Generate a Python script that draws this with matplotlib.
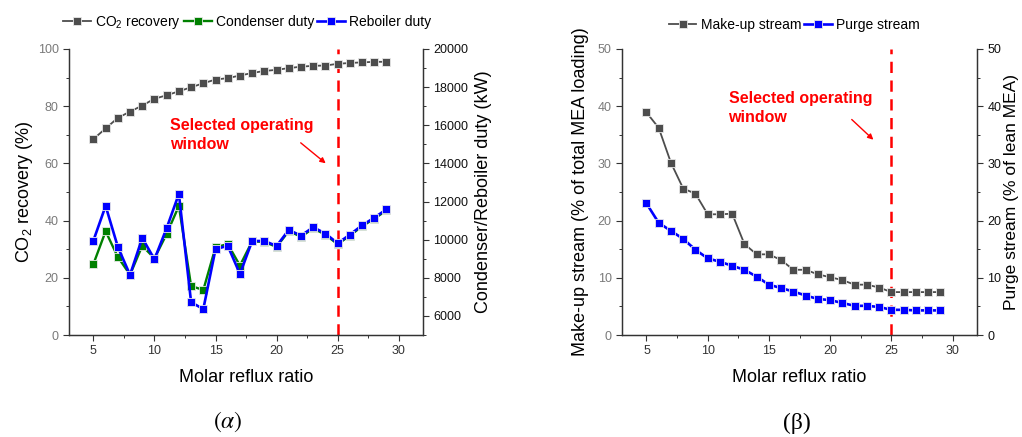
import numpy as np
import matplotlib
matplotlib.use("Agg")
import matplotlib.pyplot as plt
from matplotlib.ticker import MultipleLocator

plt.rcParams['font.family'] = ['Liberation Sans', 'DejaVu Sans']
plt.rcParams['mathtext.fontset'] = 'custom'
plt.rcParams['mathtext.rm'] = 'Liberation Sans'
plt.rcParams['mathtext.it'] = 'Liberation Sans:italic'

# Molar reflux ratio sweep
reflux = [5, 6, 7, 8, 9, 10, 11, 12, 13, 14, 15, 16, 17, 18, 19, 20,
          21, 22, 23, 24, 25, 26, 27, 28, 29]

# (a) CO2 recovery (%) and column duties (kW)
co2_recovery = [68.5, 72.2, 75.9, 78.1, 80.2, 82.6, 83.8, 85.2, 86.6, 88.0,
                89.3, 89.8, 90.7, 91.6, 92.3, 92.7, 93.3, 93.8, 94.1, 94.2,
                94.8, 95.1, 95.3, 95.5, 95.5]
condenser_duty = [8720, 10440, 9090, 8160, 9680, 9020, 10300, 11770, 7570, 7360,
                  9600, 9770, 8640, 9910, 9880, 9620, 10450, 10150, 10590, 10260,
                  9760, 10210, 10700, 11100, 11530]
reboiler_duty = [9950, 11770, 9620, 8150, 10090, 8970, 10610, 12400, 6720, 6360,
                 9500, 9680, 8200, 9930, 9930, 9670, 10510, 10210, 10650, 10320,
                 9810, 10260, 10750, 11150, 11590]

# (b) make-up and purge streams
makeup_stream = [38.9, 36.2, 30.1, 25.6, 24.7, 21.1, 21.1, 21.2, 15.9, 14.1,
                 14.1, 13.1, 11.4, 11.4, 10.6, 10.1, 9.6, 8.8, 8.8, 8.3,
                 7.5, 7.5, 7.5, 7.5, 7.5]
purge_stream = [23.0, 19.6, 18.2, 16.8, 14.9, 13.4, 12.8, 12.1, 11.4, 10.2,
                8.8, 8.2, 7.6, 6.9, 6.3, 6.1, 5.6, 5.1, 5.1, 4.9,
                4.4, 4.4, 4.3, 4.3, 4.3]

selected_ratio = 25

GREY = '#4d4d4d'
GREEN = '#008000'
BLUE = '#0000ff'
RED = '#ff0000'


def series(ax, x, y, color, label, lw):
    return ax.plot(x, y, color=color, lw=lw, marker='s', markersize=5.6,
                   markerfacecolor=color, markeredgecolor='#e8e8e8',
                   markeredgewidth=0.6, label=label)[0]


def style_axes(ax, ax2, ymajor, yminor, y2major, y2minor):
    ax.set_xlim(3, 32)
    ax.xaxis.set_major_locator(MultipleLocator(5))
    ax.xaxis.set_minor_locator(MultipleLocator(2.5))
    ax.yaxis.set_major_locator(MultipleLocator(ymajor))
    ax.yaxis.set_minor_locator(MultipleLocator(yminor))
    ax2.yaxis.set_major_locator(MultipleLocator(y2major))
    ax2.yaxis.set_minor_locator(MultipleLocator(y2minor))
    for a in (ax, ax2):
        a.spines['top'].set_visible(False)
        for s in a.spines.values():
            s.set_color('#333333')
            s.set_linewidth(0.9)
        a.tick_params(which='major', direction='out', length=4, width=0.8,
                      labelsize=9, color='#333333')
        a.tick_params(which='minor', direction='out', length=2.5, width=0.7,
                      color='#333333')
    ax.tick_params(axis='y', labelcolor='#7a7a7a')
    ax.tick_params(axis='x', labelcolor='#333333')
    ax2.tick_params(axis='y', labelcolor='#111111')
    ax.set_xlabel('Molar reflux ratio', fontsize=13, labelpad=8)


def annotate_window(ax, text_xy, arrow_from, arrow_to):
    ax.axvline(selected_ratio, color=RED, lw=1.8, dashes=(4.5, 3), zorder=1)
    ax.text(text_xy[0], text_xy[1], 'Selected operating\nwindow', color=RED,
            fontsize=11.5, fontweight='bold', va='top', ha='left',
            linespacing=1.3)
    ax.annotate('', xy=arrow_to, xytext=arrow_from,
                arrowprops=dict(arrowstyle='-|>', color=RED, lw=1,
                                mutation_scale=8))


fig = plt.figure(figsize=(10.22, 4.37), dpi=100)

# (a) recovery and duties
ax1 = fig.add_axes([0.0675, 0.2334, 0.3465, 0.6546])
ax1b = ax1.twinx()
h1 = series(ax1, reflux, co2_recovery, GREY, 'CO$_2$ recovery', 1.3)
h2 = series(ax1b, reflux, condenser_duty, GREEN, 'Condenser duty', 1.7)
h3 = series(ax1b, reflux, reboiler_duty, BLUE, 'Reboiler duty', 1.9)
ax1.set_ylim(0, 100)
ax1b.set_ylim(5000, 20000)
style_axes(ax1, ax1b, 20, 10, 2000, 1000)
ax1.set_ylabel('CO$_2$ recovery (%)', fontsize=13, labelpad=2)
ax1b.set_ylabel('Condenser/Reboiler duty (kW)', fontsize=13, labelpad=5)
annotate_window(ax1, (11.3, 75.8), (21.8, 67.8), (24.2, 59.4))
fig.legend(handles=[h1, h2, h3], loc='center', bbox_to_anchor=(0.242, 0.948),
           ncol=3, frameon=False, fontsize=10, handlelength=2.0,
           handletextpad=0.3, columnspacing=0.2, borderaxespad=0)

# (b) make-up and purge streams
ax2 = fig.add_axes([0.6086, 0.2334, 0.3474, 0.6546])
ax2b = ax2.twinx()
h4 = series(ax2, reflux, makeup_stream, GREY, 'Make-up stream', 1.3)
h5 = series(ax2b, reflux, purge_stream, BLUE, 'Purge stream', 1.9)
ax2.set_ylim(0, 50)
ax2b.set_ylim(0, 50)
style_axes(ax2, ax2b, 10, 5, 10, 5)
ax2.set_ylabel('Make-up stream (% of total MEA loading)', fontsize=13,
               labelpad=6)
ax2b.set_ylabel('Purge stream (% of lean MEA)', fontsize=12.5, labelpad=2)
annotate_window(ax2, (11.7, 42.6), (21.6, 38.0), (23.7, 33.8))
fig.legend(handles=[h4, h5], loc='center', bbox_to_anchor=(0.777, 0.942),
           ncol=2, frameon=False, fontsize=10, handlelength=2.0,
           handletextpad=0.3, columnspacing=0.2, borderaxespad=0)

# panel captions
fig.text(0.223, 0.008, r'$(\alpha)$', fontsize=17, ha='center', va='bottom',
         math_fontfamily='stix')
fig.text(0.780, 0.008, '(β)', fontsize=17, ha='center', va='bottom',
         family='Liberation Serif')

fig.savefig('out.png', dpi=100)
